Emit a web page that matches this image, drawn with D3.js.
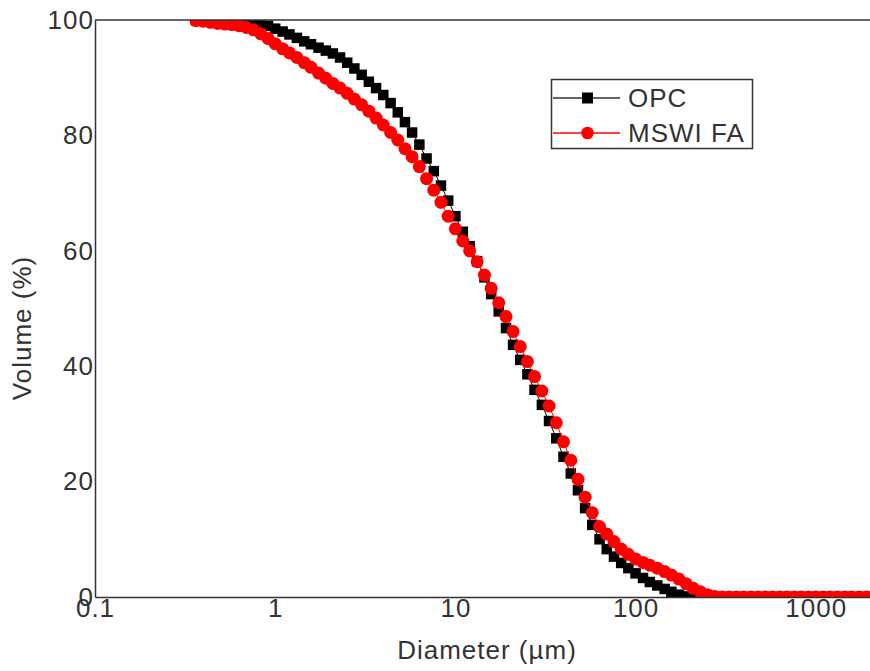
<!DOCTYPE html>
<html lang="en">
<head>
<meta charset="UTF-8">
<title>Particle size distribution - OPC vs MSWI FA</title>
<script src="https://cdn.jsdelivr.net/npm/d3@7"></script>
<style>
  body { margin: 0; background: #fff; }
  text { font-family: "Liberation Sans", Arial, sans-serif; fill: #333; }
</style>
</head>
<body>
<div id="chart"></div>
<script>
// particle diameter classes (µm)
const diameters = [
  0.363, 0.398, 0.437, 0.479, 0.525, 0.575, 0.631, 0.692, 0.759, 0.832, 0.912,
  1.00, 1.10, 1.20, 1.32, 1.45, 1.58, 1.74, 1.91, 2.09, 2.29, 2.51, 2.75, 3.02,
  3.31, 3.63, 3.98, 4.37, 4.79, 5.25, 5.75, 6.31, 6.92, 7.59, 8.32, 9.12,
  10.0, 11.0, 12.0, 13.2, 14.5, 15.8, 17.4, 19.1, 20.9, 22.9, 25.1, 27.5, 30.2,
  33.1, 36.3, 39.8, 43.7, 47.9, 52.5, 57.5, 63.1, 69.2, 75.9, 83.2, 91.2,
  100, 110, 120, 132, 145, 158, 174, 191, 209, 229, 251, 275, 302, 331, 363,
  398, 437, 479, 525, 575, 631, 692, 759, 832, 912,
  1000, 1100, 1200, 1320, 1450, 1580, 1740, 1910, 2090
];

// cumulative volume (%)
const opcVolume = [
  100, 100, 100, 100, 100, 100, 100, 99.9, 99.6, 99.3, 99.0,
  98.5, 98.0, 97.5, 96.9, 96.3, 95.8, 95.2, 94.7, 94.2, 93.5, 92.6, 91.6, 90.5,
  89.3, 88.2, 87.0, 85.6, 84.0, 82.3, 80.5, 78.4, 76.0, 73.8, 71.3, 68.7,
  66.0, 63.3, 60.8, 58.2, 55.4, 52.5, 49.5, 46.6, 43.7, 41.1, 38.6, 35.9, 33.3,
  30.5, 27.5, 24.3, 21.4, 18.5, 15.4, 12.5, 10.0, 8.3, 7.0, 5.9, 5.0,
  4.1, 3.3, 2.6, 2.0, 1.4, 0.9, 0.4, 0.1, 0, 0, 0, 0, 0, 0, 0,
  0, 0, 0, 0, 0, 0, 0, 0, 0, 0,
  0, 0, 0, 0, 0, 0, 0, 0, 0
];

const mswiVolume = [
  99.9, 99.8, 99.6, 99.4, 99.3, 99.2, 99.0, 98.7, 98.3, 97.6, 96.8,
  95.9, 95.0, 94.3, 93.5, 92.6, 91.8, 90.8, 89.9, 89.0, 88.2, 87.3, 86.3, 85.3,
  84.2, 83.0, 81.8, 80.5, 79.2, 77.7, 76.3, 74.6, 72.5, 70.5, 68.4, 66.0,
  63.8, 61.7, 60.0, 58.1, 55.8, 53.5, 51.0, 48.6, 46.0, 43.4, 40.8, 38.2, 35.7,
  33.1, 30.2, 26.9, 23.7, 20.4, 17.3, 14.6, 12.2, 10.9, 9.6, 8.3, 7.4,
  6.6, 6.0, 5.5, 5.0, 4.4, 3.8, 3.1, 2.3, 1.5, 0.9, 0.4, 0.1, 0, 0, 0,
  0, 0, 0, 0, 0, 0, 0, 0, 0, 0,
  0, 0, 0, 0, 0, 0, 0, 0, 0
];

const xTicks = [0.1, 1, 10, 100, 1000];
const yTicks = [0, 20, 40, 60, 80, 100];
const seriesNames = ["OPC", "MSWI FA"];

const w = 870, h = 671;
const margin = {top: 20, right: 0, bottom: 74, left: 95};
const axisColor = "#333";

const svg = d3.select("#chart").append("svg")
    .attr("width", w)
    .attr("height", h);

const x = d3.scaleLog()
    .domain([0.1, 2000])
    .range([margin.left, w - margin.right]);

const y = d3.scaleLinear()
    .domain([0, 100])
    .range([h - margin.bottom, margin.top]);

svg.append("clipPath").attr("id", "plot-clip")
  .append("rect")
    .attr("x", margin.left)
    .attr("y", margin.top)
    .attr("width", w - margin.left - margin.right)
    .attr("height", h - margin.top - margin.bottom);

const opc = diameters.map((d, i) => ({d: d, v: opcVolume[i]}));
const mswi = diameters.map((d, i) => ({d: d, v: mswiVolume[i]}));

const line = d3.line()
    .x(p => x(p.d))
    .y(p => y(p.v));

const plot = svg.append("g").attr("clip-path", "url(#plot-clip)");

// OPC: black squares
plot.append("path")
    .datum(opc)
    .attr("fill", "none")
    .attr("stroke", "#000")
    .attr("stroke-width", 1)
    .attr("d", line);
const sq = 10.5;
plot.append("g")
  .selectAll("rect")
  .data(opc)
  .enter()
  .append("rect")
    .attr("x", p => x(p.d) - sq / 2)
    .attr("y", p => y(p.v) - sq / 2)
    .attr("width", sq)
    .attr("height", sq)
    .attr("fill", "#000");

// MSWI FA: red circles
plot.append("path")
    .datum(mswi)
    .attr("fill", "none")
    .attr("stroke", "#f00")
    .attr("stroke-width", 1)
    .attr("d", line);
plot.append("g")
  .selectAll("circle")
  .data(mswi)
  .enter()
  .append("circle")
    .attr("cx", p => x(p.d))
    .attr("cy", p => y(p.v))
    .attr("r", 6.5)
    .attr("fill", "#f00");

// axes
const xAxis = svg.append("g")
    .attr("transform", "translate(0," + (h - margin.bottom) + ")")
    .call(d3.axisBottom(x).tickValues(xTicks).tickSize(0).tickPadding(2)
      .tickFormat(d3.format("~g")));
const yAxis = svg.append("g")
    .attr("transform", "translate(" + margin.left + ",0)")
    .call(d3.axisLeft(y).tickValues(yTicks).tickSize(0).tickPadding(1));

[xAxis, yAxis].forEach(g => {
  g.select(".domain").attr("stroke", axisColor).attr("stroke-width", 1.5);
  g.selectAll("text")
    .attr("font-family", "Liberation Sans, Arial, sans-serif")
    .attr("font-size", 26)
    .attr("letter-spacing", "1px")
    .attr("fill", "#333");
});

// top frame line
svg.append("line")
    .attr("x1", margin.left).attr("x2", w)
    .attr("y1", y(100)).attr("y2", y(100))
    .attr("stroke", axisColor)
    .attr("stroke-width", 1.5);

// axis titles
svg.append("text")
    .attr("x", 487)
    .attr("y", 659)
    .attr("text-anchor", "middle")
    .attr("font-size", 26)
    .attr("letter-spacing", "1px")
    .text("Diameter (µm)");

svg.append("text")
    .attr("transform", "translate(31," + 328 + ") rotate(-90)")
    .attr("text-anchor", "middle")
    .attr("font-size", 26)
    .attr("letter-spacing", "1px")
    .text("Volume (%)");

// legend
const legend = svg.append("g");
legend.append("rect")
    .attr("x", 551.5).attr("y", 79.5)
    .attr("width", 201).attr("height", 69)
    .attr("fill", "#fff")
    .attr("stroke", axisColor)
    .attr("stroke-width", 1.5);

const rows = [
  {name: seriesNames[0], color: "#000", lineColor: "#333", y: 98},
  {name: seriesNames[1], color: "#f00", lineColor: "#f00", y: 133}
];
rows.forEach((r, i) => {
  legend.append("line")
      .attr("x1", 553).attr("x2", 620)
      .attr("y1", r.y).attr("y2", r.y)
      .attr("stroke", r.lineColor)
      .attr("stroke-width", 1.3);
  if (i === 0) {
    legend.append("rect")
        .attr("x", 587.5 - 5.5).attr("y", r.y - 5.5)
        .attr("width", 11).attr("height", 11)
        .attr("fill", r.color);
  } else {
    legend.append("circle")
        .attr("cx", 587.5).attr("cy", r.y)
        .attr("r", 6.3)
        .attr("fill", r.color);
  }
  legend.append("text")
      .attr("x", 628)
      .attr("y", r.y + 9)
      .attr("font-size", 26)
      .attr("letter-spacing", "1px")
      .text(r.name);
});
</script>
</body>
</html>
